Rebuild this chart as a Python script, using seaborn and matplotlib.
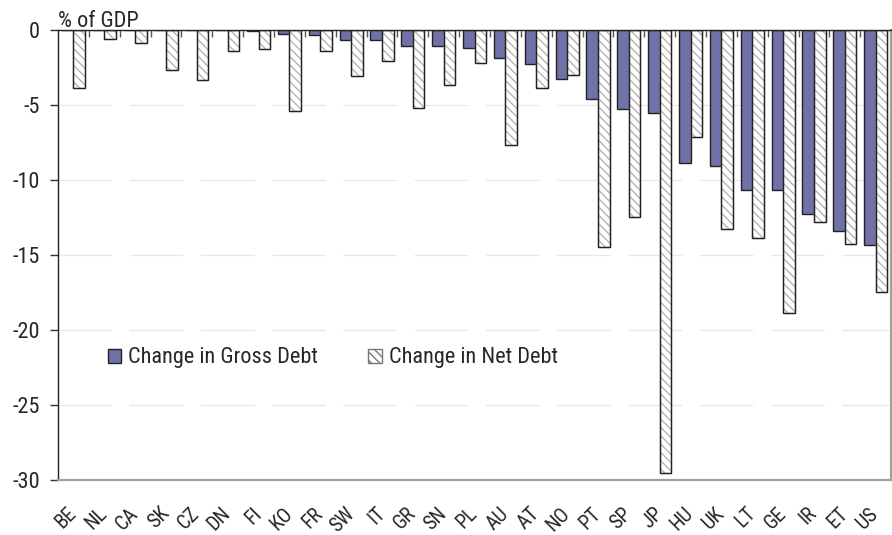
import pandas as pd
import matplotlib
matplotlib.use("Agg")
import matplotlib.pyplot as plt
import matplotlib.transforms as mtransforms
from matplotlib import font_manager
from matplotlib.patches import Patch, Rectangle
import seaborn as sns

countries = ['BE', 'NL', 'CA', 'SK', 'CZ', 'DN', 'FI', 'KO', 'FR', 'SW', 'IT', 'GR', 'SN', 'PL',
             'AU', 'AT', 'NO', 'PT', 'SP', 'JP', 'HU', 'UK', 'LT', 'GE', 'IR', 'ET', 'US']
gross_debt = [0, 0, 0, 0, 0, 0, -0.05, -0.3, -0.35, -0.7, -0.7, -1.1, -1.1, -1.2,
              -1.85, -2.3, -3.3, -4.6, -5.3, -5.55, -8.85, -9.1, -10.7, -10.7, -12.3, -13.4, -14.35]
net_debt = [-3.9, -0.6, -0.85, -2.7, -3.35, -1.4, -1.27, -5.4, -1.4, -3.1, -2.1, -5.2, -3.7, -2.2,
            -7.7, -3.87, -3.0, -14.45, -12.5, -29.55, -7.13, -13.25, -13.9, -18.85, -12.8, -14.25, -17.5]
series = ['Change in Gross Debt', 'Change in Net Debt']
y_ticks = [0, -5, -10, -15, -20, -25, -30]

BLUE = '#7171a9'
HATCH_GREY = '#b4b4b4'
OUTLINE = '#222222'


def pick_narrow_font():
    # look for an installed narrow / condensed sans face (reference uses Arial Narrow)
    wanted = ['Liberation Sans Narrow', 'Arial Narrow', 'Roboto Condensed', 'Open Sans Condensed',
              'Noto Sans Condensed', 'DejaVu Sans Condensed']
    entries = font_manager.fontManager.ttflist
    for name in wanted:
        for e in entries:
            if e.name == name and e.style == 'normal':
                return e.name, 'normal'
    for base in ['Roboto', 'Open Sans', 'Noto Sans', 'Inter', 'DejaVu Sans']:
        for e in entries:
            if e.name == base and e.style == 'normal' and str(e.stretch) in ('condensed', 'semi-condensed'):
                return e.name, e.stretch
    return 'Liberation Sans', 'normal'


sns.set_style('white')
font_name, font_stretch = pick_narrow_font()
plt.rcParams['font.family'] = [font_name, 'Liberation Sans', 'DejaVu Sans']
plt.rcParams['font.stretch'] = font_stretch
plt.rcParams['hatch.linewidth'] = 1.0
narrow = font_name != 'Liberation Sans'
FS = 16 if narrow else 14
FS_X = 14.5 if narrow else 12

df = pd.DataFrame({
    'country': countries * 2,
    'series': [series[0]] * len(countries) + [series[1]] * len(countries),
    'value': gross_debt + net_debt,
})

fig = plt.figure(figsize=(8.92, 5.35), dpi=100)
ax = fig.add_axes([0.065, 0.103, 0.934, 0.841])

sns.barplot(data=df, x='country', y='value', hue='series', order=countries,
            hue_order=series, palette=[BLUE, 'white'], saturation=1, width=0.75,
            edgecolor=OUTLINE, linewidth=1.0, legend=False, ax=ax)

# hatched net-debt bars: grey hatch, black outline drawn on top
for bar in ax.containers[1]:
    bar.set_hatch('\\\\\\\\')
    bar.set_edgecolor(HATCH_GREY)
    ax.add_patch(Rectangle((bar.get_x(), bar.get_y()), bar.get_width(), bar.get_height(),
                           fill=False, edgecolor=OUTLINE, linewidth=1.0, zorder=bar.get_zorder() + 0.1))

ax.set_ylim(-30, 0)
ax.set_xlim(-0.5, len(countries) - 0.5)
ax.set_yticks(y_ticks)
ax.set_yticklabels([str(v) for v in y_ticks], fontsize=FS)
ax.set_xticks(range(len(countries)))
ax.set_xticklabels(countries, fontsize=FS_X, rotation=45, ha='right', va='center',
                   rotation_mode='anchor')
shift = mtransforms.ScaledTranslation(-9 / 100, 0, fig.dpi_scale_trans)
for lab in ax.get_xticklabels():
    lab.set_transform(lab.get_transform() + shift)
ax.set_xticks([i + 0.5 for i in range(len(countries) - 1)], minor=True)
ax.tick_params(axis='x', which='major', length=0, pad=22)
ax.tick_params(axis='x', which='minor', top=True, bottom=False, direction='in',
               length=5, width=1, color='#555555')
ax.tick_params(axis='y', which='major', left=True, direction='out', length=6, width=1,
               pad=7, color='#333333')
ax.set_xlabel('')
ax.set_ylabel('')

ax.grid(axis='y', color='#e8e8e8', linestyle=(0, (43, 14)), linewidth=0.9)
ax.set_axisbelow(True)

for side in ['left', 'top']:
    ax.spines[side].set_color(OUTLINE)
    ax.spines[side].set_linewidth(1.0)
for side in ['bottom', 'right']:
    ax.spines[side].set_color('#a0a0a0')
    ax.spines[side].set_linewidth(1.6)

ax.text(0.0, 1.007, '% of GDP', transform=ax.transAxes, fontsize=FS, ha='left', va='baseline')

handles = [Patch(facecolor=BLUE, edgecolor=OUTLINE, linewidth=1.0),
           Patch(facecolor='white', edgecolor='#777777', hatch='\\\\\\\\', linewidth=1.0)]
ax.legend(handles, series, loc='center left', bbox_to_anchor=(0.06, 0.271), ncol=2,
          frameon=False, fontsize=FS, handlelength=0.6, handleheight=0.6,
          handletextpad=0.32, columnspacing=2.25, borderpad=0, borderaxespad=0)

fig.savefig('out.png', dpi=100)
